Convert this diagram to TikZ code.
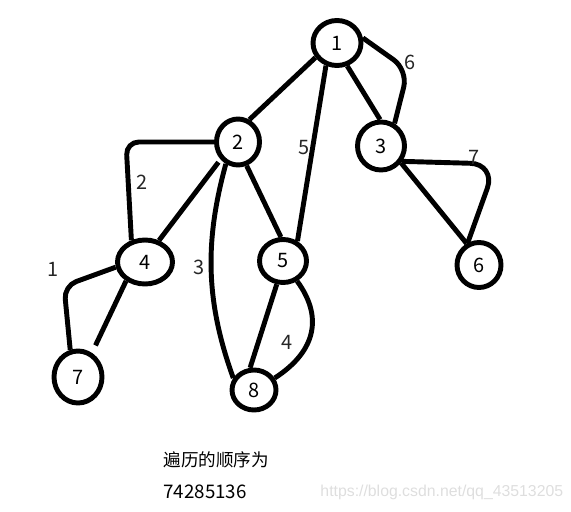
\documentclass[tikz,border=0pt]{standalone}
\usepackage{fontspec}
\setmainfont{Noto Sans CJK SC}
\newfontfamily\markfont{Liberation Sans}
\usetikzlibrary{shapes.geometric}

\begin{document}
\begin{tikzpicture}[x=0.03cm, y=-0.03cm, line width=4.2pt,
  vertex/.style 2 args={draw, ellipse, inner sep=0pt, minimum width=#1*0.03cm, minimum height=#2*0.03cm, font=\fontsize{17}{17}\selectfont},
  weight/.style={text=black!85, inner sep=0pt, font=\fontsize{17}{17}\selectfont}]
  \useasboundingbox (0,0) rectangle (571,511);
  % vertices
  \node[vertex={48}{45}] (n1) at (337,43) {1};
  \node[vertex={43}{46}] (n2) at (238,142) {2};
  \node[vertex={47}{48}] (n3) at (381,146) {3};
  \node[vertex={55}{44}] (n4) at (145,262) {4};
  \node[vertex={47}{43}] (n5) at (283,261) {5};
  \node[vertex={44}{45}] (n6) at (479,265) {6};
  \node[vertex={48}{52}] (n7) at (78,377) {7};
  \node[vertex={44}{40}] (n8) at (254,390) {8};
  % tree edges
  \draw (n1.214) -- (n2.63);
  \draw (n1.294) -- (n3.92);
  \draw[shorten <=3pt] (n2.225) -- (n4.57);
  \draw (n2.290) -- (n5.95);
  \draw (n3.-40) -- (n6.120);
  \draw[shorten >=7pt] (n4.225) -- (n7.60);
  \draw (n5.255) -- (n8.100);
  % numbered links
  \draw[rounded corners=15pt] (n1.11) -- (408,70) -- (n3.59);
  \draw (n1.244) -- (n5.54);
  \draw[rounded corners=22pt] (n3.-36) -- (496,164) -- (n6.117);
  \draw[rounded corners=11pt] (n2.180) -- (126,142) -- (n4.122);
  \draw (n2.241) .. controls (205,240) and (205,300) .. (n8.150);
  \draw[rounded corners=11pt] (n4.190) -- (64,286) -- (n7.106);
  \draw (n5.305) .. controls (322,315) and (318,350) .. (n8.30);
  \node[weight] (w1) at (53,269) {1};
  \node[weight] (w2) at (142,182) {2};
  \node[weight] (w3) at (199,267) {3};
  \node[weight] (w4) at (287,342) {4};
  \node[weight] (w5) at (304,148) {5};
  \node[weight] (w6) at (410,62) {6};
  \node[weight] (w7) at (474,157) {7};
  % result
  \node[anchor=west, inner sep=0pt, font=\fontsize{15}{15}\selectfont] (caption) at (161,460) {遍历的顺序为};
  \node[anchor=west, inner sep=0pt, font=\fontsize{16}{16}\selectfont] (order) at (161,492) {74285136};
  \node[anchor=west, inner sep=0pt, text=black!13, font=\markfont\fontsize{13.5}{13.5}\selectfont] (mark) at (318,492) {https://blog.csdn.net/qq\_43513205};
\end{tikzpicture}
\end{document}
